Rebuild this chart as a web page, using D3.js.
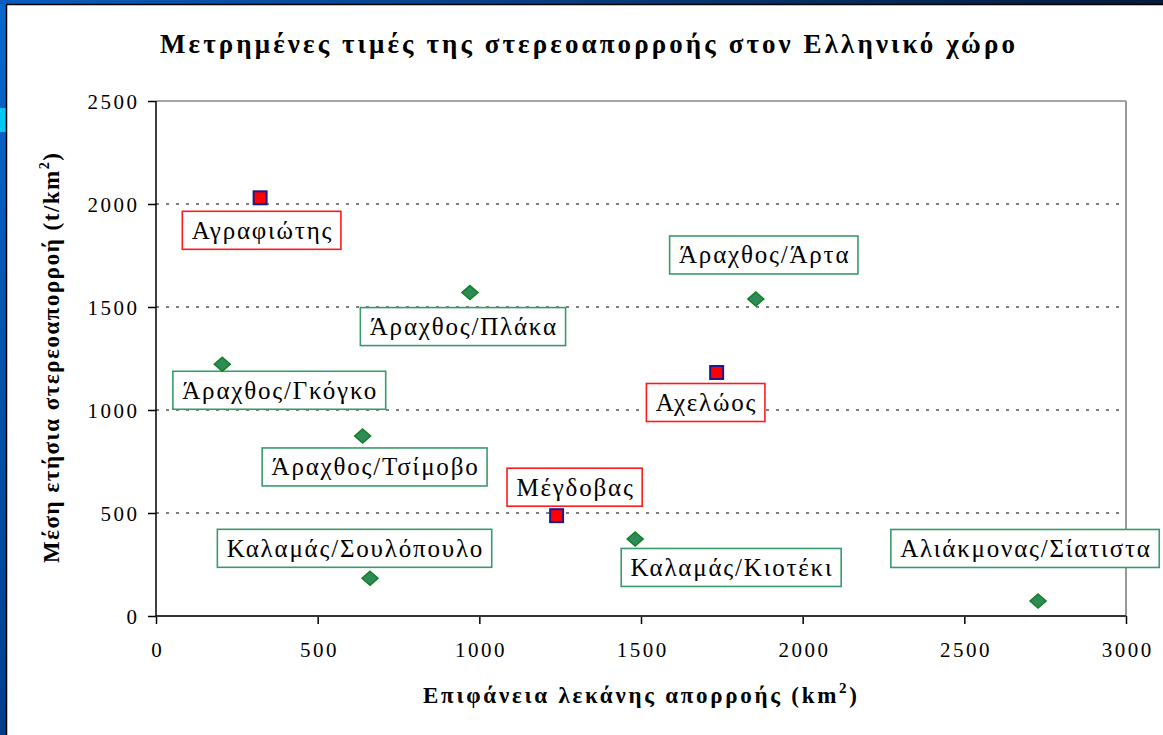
<!DOCTYPE html>
<html><head><meta charset="utf-8">
<script src="https://cdn.jsdelivr.net/npm/d3@7"></script>
<style>body{margin:0;background:#fff}svg{display:block}</style>
</head><body>
<svg id="c" width="1163" height="735"></svg>
<script>
// ---- data ----
const squareNames = ["Αγραφιώτης", "Αχελώος", "Μέγδοβας"];
const squareArea = [322, 1734, 1239];
const squareYield = [2030, 1182, 487];
const diamondNames = ["Άραχθος/Άρτα", "Άραχθος/Πλάκα", "Άραχθος/Γκόγκο", "Άραχθος/Τσίμοβο", "Καλαμάς/Σουλόπουλο", "Καλαμάς/Κιοτέκι", "Αλιάκμονας/Σίατιστα"];
const diamondArea = [1855, 971, 205, 639, 662, 1482, 2728];
const diamondYield = [1539, 1570, 1222, 874, 183, 374, 73];
const xTicks = [0, 500, 1000, 1500, 2000, 2500, 3000];
const yTicks = [0, 500, 1000, 1500, 2000, 2500];
const titleText = "Μετρημένες τιμές της στερεοαπορροής στον Ελληνικό χώρο";

// ---- layout (label box offsets from the point, px) ----
const labelOffsets = {
  "Αγραφιώτης": [1.5, 32.5], "Αχελώος": [-11, 30], "Μέγδοβας": [18, -28.5],
  "Άραχθος/Άρτα": [8, -44], "Άραχθος/Πλάκα": [-7, 34], "Άραχθος/Γκόγκο": [57, 26],
  "Άραχθος/Τσίμοβο": [12, 31], "Καλαμάς/Σουλόπουλο": [-15.5, -30],
  "Καλαμάς/Κιοτέκι": [96, 28.5], "Αλιάκμονας/Σίατιστα": [-13, -52.5]
};

const svg = d3.select('#c');
const serif = "Liberation Serif";
const defs = svg.append('defs');
const gl = defs.append('linearGradient').attr('id','gl').attr('x1',0).attr('y1',0).attr('x2',0).attr('y2',1);
gl.append('stop').attr('offset','0%').attr('stop-color','#0a68cc');
gl.append('stop').attr('offset','100%').attr('stop-color','#003f8c');
const gt = defs.append('linearGradient').attr('id','gt').attr('x1',0).attr('y1',0).attr('x2',1).attr('y2',0);
gt.append('stop').attr('offset','0%').attr('stop-color','#0a5cc0');
gt.append('stop').attr('offset','100%').attr('stop-color','#061a3a');

svg.append('rect').attr('width',1163).attr('height',735).attr('fill','#fff');
svg.append('rect').attr('x',0).attr('y',0).attr('width',6).attr('height',735).attr('fill','url(#gl)');
svg.append('rect').attr('x',0).attr('y',108).attr('width',6).attr('height',24).attr('fill','#00c8f4');
svg.append('rect').attr('x',0).attr('y',0).attr('width',1163).attr('height',4).attr('fill','url(#gt)');
svg.append('line').attr('x1',6.5).attr('x2',6.5).attr('y1',4).attr('y2',735).attr('stroke','#000').attr('stroke-width',1.5);
svg.append('line').attr('x1',6).attr('x2',1163).attr('y1',4.5).attr('y2',4.5).attr('stroke','#000').attr('stroke-width',1.5);

const x = d3.scaleLinear().domain([0, 3000]).range([156, 1126]);
const y = d3.scaleLinear().domain([0, 2500]).range([616, 101]);

// gridlines
svg.append('g').selectAll('line').data(yTicks.filter(v => v > 0 && v < 2500)).join('line')
  .attr('x1', x(0)).attr('x2', x(3000)).attr('y1', d => y(d)).attr('y2', d => y(d))
  .attr('stroke', '#555').attr('stroke-width', 1.4).attr('stroke-dasharray', '3,7');
// plot border top/right
svg.append('line').attr('x1', x(0)).attr('x2', x(3000)).attr('y1', y(2500)).attr('y2', y(2500))
  .attr('stroke', '#888').attr('stroke-width', 1.4);
svg.append('line').attr('x1', x(3000)).attr('x2', x(3000)).attr('y1', y(2500)).attr('y2', y(0))
  .attr('stroke', '#999').attr('stroke-width', 2);

// axes
const yAxis = d3.axisLeft(y).tickValues(yTicks).tickSize(8).tickSizeOuter(0).tickPadding(11).tickFormat(d3.format('d'));
const gy = svg.append('g').attr('transform', `translate(${x(0)},0)`).call(yAxis);
const xAxis = d3.axisBottom(x).tickValues(xTicks).tickSize(8).tickSizeOuter(0).tickPadding(18).tickFormat(d3.format('d'));
const gx = svg.append('g').attr('transform', `translate(0,${y(0)})`).call(xAxis);
[gx, gy].forEach(g => {
  g.attr('font-family', serif).attr('font-size', 21);
  g.select('.domain').remove();
  g.selectAll('.tick line').attr('stroke', '#000').attr('stroke-width', 1.5);
  g.selectAll('.tick text').attr('fill', '#000').style('letter-spacing', '2.5px');
});
gy.selectAll('.tick text').attr('dy', '0.36em').attr('dx', '2.5px');
gx.selectAll('.tick text').attr('dx', '1.25px');
svg.append('line').attr('x1', x(0)).attr('x2', x(3000)).attr('y1', y(0)).attr('y2', y(0)).attr('stroke', '#333').attr('stroke-width', 2);
svg.append('line').attr('x1', x(0)).attr('x2', x(0)).attr('y1', y(2500)).attr('y2', y(0)).attr('stroke', '#000').attr('stroke-width', 1.5);

// titles
svg.append('text').attr('x', 160).attr('y', 53).attr('font-family', serif).attr('font-weight', 'bold')
  .attr('font-size', 27).attr('textLength', 855).attr('lengthAdjust', 'spacing').text(titleText);

const xt = svg.append('text').attr('x', 423).attr('y', 703).attr('font-family', serif).attr('font-weight', 'bold')
  .attr('font-size', 23).attr('textLength', 434).attr('lengthAdjust', 'spacing');
xt.append('tspan').text('Επιφάνεια λεκάνης απορροής (km');
xt.append('tspan').attr('font-size', 15).attr('dy', -10).text('2');
xt.append('tspan').attr('dy', 10).text(')');

const yt = svg.append('text').attr('transform', 'translate(59,563) rotate(-90)').attr('x', 0).attr('y', 0)
  .attr('font-family', serif).attr('font-weight', 'bold').attr('font-size', 23)
  .attr('textLength', 410).attr('lengthAdjust', 'spacing');
yt.append('tspan').text('Μέση ετήσια στερεοαπορροή (t/km');
yt.append('tspan').attr('font-size', 14).attr('dy', -10).text('2');
yt.append('tspan').attr('dy', 10).text(')');

// labels
function addLabels(names, xs, ys, color) {
  names.forEach((n, i) => {
    const px = x(xs[i]), py = y(ys[i]);
    const [dx, dy] = labelOffsets[n];
    const cx = px + dx, cy = py + dy;
    const g = svg.append('g');
    const t = g.append('text').attr('x', cx).attr('y', cy + 8.5).attr('text-anchor', 'middle')
      .attr('font-family', serif).attr('font-size', 25).style('letter-spacing', '1.8px').attr('fill', '#000').text(n);
    const w = t.node().getComputedTextLength() + 17;
    t.attr('x', cx + 0.9);
    g.insert('rect', 'text').attr('x', cx - w / 2).attr('y', cy - 19).attr('width', w).attr('height', 38)
      .attr('fill', '#fff').attr('stroke', color).attr('stroke-width', 1.6);
  });
}
addLabels(squareNames, squareArea, squareYield, '#ff1a1a');
addLabels(diamondNames, diamondArea, diamondYield, '#3a9a6c');

// markers
svg.append('g').selectAll('path').data(diamondNames.map((n, i) => [diamondArea[i], diamondYield[i]])).join('path')
  .attr('d', 'M0,-7L8,0L0,7L-8,0Z')
  .attr('transform', d => `translate(${x(d[0])},${y(d[1])})`)
  .attr('fill', '#2e8b57').attr('stroke', '#118022').attr('stroke-width', 1.5);
svg.append('g').selectAll('rect').data(squareNames.map((n, i) => [squareArea[i], squareYield[i]])).join('rect')
  .attr('x', d => x(d[0]) - 6.5).attr('y', d => y(d[1]) - 6.5).attr('width', 13).attr('height', 13)
  .attr('fill', '#ff0000').attr('stroke', '#1a1a90').attr('stroke-width', 2);
</script>
</body></html>
